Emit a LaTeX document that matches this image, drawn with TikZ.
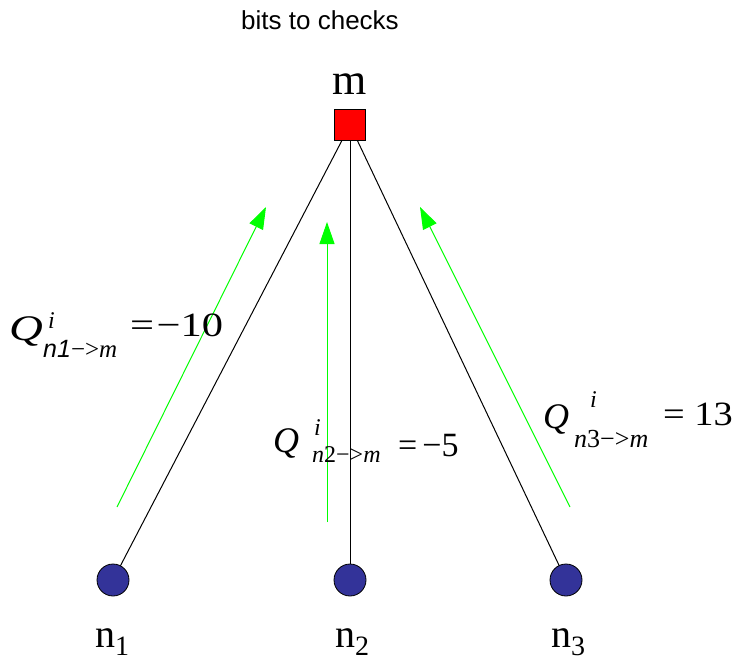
\documentclass[tikz,border=0pt]{standalone}
\usepackage{fontspec}
\usepackage{graphicx}
\setmainfont{Liberation Serif}
\setsansfont{Liberation Sans}
\usetikzlibrary{arrows.meta,backgrounds}
\definecolor{nodeblue}{RGB}{51,51,153}
\definecolor{arrgreen}{RGB}{0,255,0}
\tikzset{
  chk/.style={draw=black,fill=red,minimum size=31pt,inner sep=0pt,line width=0.8pt},
  bitnode/.style={circle,draw=black,fill=nodeblue,minimum size=32pt,inner sep=0pt,line width=0.8pt},
  edge/.style={black,line width=1pt},
  msg/.style={arrgreen,line width=1pt,-{Triangle[length=22pt,width=15pt]}},
  big/.style={font=\fontsize{44}{50}\selectfont,inner sep=0pt,anchor=base west},
  nlab/.style={font=\fontsize{40}{44}\selectfont,inner sep=0pt,anchor=base west},
  qsym/.style={font=\fontsize{36}{40}\selectfont\itshape,inner sep=0pt,anchor=base west},
  qsup/.style={font=\fontsize{24}{26}\selectfont\itshape,inner sep=0pt,anchor=base west},
  qsub/.style={font=\fontsize{24}{28}\selectfont,inner sep=0pt,anchor=base west},
  qval/.style={font=\fontsize{34}{40}\selectfont,inner sep=0pt,anchor=base west},
  ttl/.style={font=\sffamily\fontsize{26}{30}\selectfont,inner sep=0pt,anchor=base}
}
\newcommand{\bitsub}[1]{\raisebox{-8pt}{\fontsize{28}{30}\selectfont #1}}
\begin{document}
\begin{tikzpicture}[x=1pt,y=-1pt]
\useasboundingbox (0,0) rectangle (735,660);
\node[ttl] (title) at (320,30) {bits to checks};
\node[big,anchor=base] (mlab) at (350,95) {m};
\node[chk] (m) at (350,125) {};
\node[bitnode] (n1) at (113,580) {};
\node[bitnode] (n2) at (350,580) {};
\node[bitnode] (n3) at (566,580) {};
\begin{scope}[on background layer]
\draw[edge] (m.center) -- (n1.center);
\draw[edge] (m.center) -- (n2.center);
\draw[edge] (m.center) -- (n3.center);
\end{scope}
\node[nlab] (l1) at (95,647) {n\bitsub{1}};
\node[nlab] (l2) at (335,647) {n\bitsub{2}};
\node[nlab] (l3) at (551,647) {n\bitsub{3}};
\coordinate (a1s) at (117,507);
\coordinate (a1e) at (266,207);
\coordinate (a2s) at (327,522);
\coordinate (a2e) at (327,222);
\coordinate (a3s) at (570,507);
\coordinate (a3e) at (420,207);
\draw[msg] (a1s) -- (a1e);
\draw[msg] (a2s) -- (a2e);
\draw[msg] (a3s) -- (a3e);
% formula 1
\node[qsym] (q1Q) at (9,340) {\scalebox{1.3}[1]{Q}};
\node[qsup] (q1i) at (48,328) {i};
\node[qsub,font=\fontsize{25}{28}\selectfont] (q1s) at (43,357) {\sffamily\itshape n1\rmfamily\upshape −>\itshape m};
\node[qval] (q1v) at (130,336) {\scalebox{1.25}[1]{=\hspace{2pt}−10}};
% formula 2
\node[qsym] (q2Q) at (273,452) {Q};
\node[qsup] (q2i) at (314,435) {i};
\node[qsub] (q2s) at (312,462) {\itshape n\upshape 2−>\itshape m};
\node[qval] (q2v) at (398,456) {=\hspace{5pt}−5};
% formula 3
\node[qsym] (q3Q) at (543,428) {Q};
\node[qsup] (q3i) at (590,407) {i};
\node[qsub,font=\fontsize{26}{28}\selectfont] (q3s) at (574,447) {\itshape n\upshape 3−>\itshape m};
\node[qval] (q3v) at (663,425) {\scalebox{1.13}[1]{= 13}};
\end{tikzpicture}
\end{document}
